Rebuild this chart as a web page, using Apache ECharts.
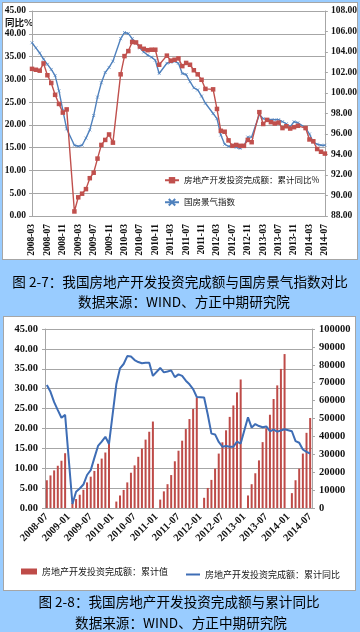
<!DOCTYPE html>
<html>
<head>
<meta charset="utf-8">
<script src="https://cdn.jsdelivr.net/npm/echarts/dist/echarts.min.js"></script>
<style>
html,body{margin:0;padding:0;width:360px;height:632px;background:#99CCFF;overflow:hidden;}
.panel{position:absolute;background:#ffffff;border:1px solid #A6A6A6;box-sizing:border-box;}
#c{position:absolute;left:0;top:0;width:360px;height:632px;}
</style>
</head>
<body>
<div class="panel" style="left:2px;top:2px;width:356px;height:258px;"></div>
<div class="panel" style="left:3px;top:316px;width:353px;height:275px;"></div>
<div id="c"></div>
<script>
// ---------- categories ----------
function monthRange(y0, m0, y1, m1) {
  const a = [];
  let y = y0, m = m0;
  while (y < y1 || (y === y1 && m <= m1)) {
    a.push(y + '-' + (m < 10 ? '0' : '') + m);
    m++; if (m > 12) { m = 1; y++; }
  }
  return a;
}
const months1 = monthRange(2008, 3, 2014, 7);   // chart 2-7
const months2 = monthRange(2008, 7, 2014, 7);   // chart 2-8

// ---------- series values ----------
// 房地产开发投资完成额：累计同比 (%), 2008-03 .. 2014-07 (January not published)
const invYoY = [
  32.3, 32.1, 31.9, 33.5, 30.9, 29.2, 26.6, 24.6, 22.7, 23.4,
  null, 1.0, 4.1, 4.9, 5.9, 8.3, 9.5, 12.6, 15.6, 16.7, 17.9, 16.1,
  null, 31.1, 35.1, 36.2, 38.2, 38.1, 37.2, 36.7, 36.4, 36.5, 36.5, 33.2,
  null, 35.2, 34.1, 34.3, 34.6, 32.9, 33.6, 33.2, 32.0, 31.1, 29.9, 27.9,
  null, 27.8, 23.5, 18.7, 18.5, 16.6, 15.4, 15.6, 15.4, 15.4, 16.7, 16.2,
  null, 22.8, 20.2, 21.1, 20.6, 20.3, 20.5, 19.3, 19.7, 19.2, 19.5, 19.8,
  null, 19.3, 16.8, 16.4, 14.7, 14.1, 13.7
];
// 国房景气指数, 2008-03 .. 2014-07
const climateIdx = [
  104.9, 104.4, 103.9, 103.3, 102.8, 102.3, 101.7, 100.2, 98.3, 96.5,
  null, 94.9, 94.8, 94.9, 95.6, 96.4, 97.8, 99.6, 101.0, 102.0, 102.5, 103.1,
  null, 105.3, 105.9, 105.8, 105.3, 104.9, 104.4, 104.0, 103.7, 103.5, 103.2, 101.9,
  null, 102.9, 103.0, 103.1, 102.9, 101.9, 101.8, 101.1, 100.5, 100.3, 99.7, 99.0,
  null, 98.0, 97.5, 95.9, 95.0, 94.8, 94.8, 94.7, 94.6, 94.8, 95.7, 95.7,
  null, 97.9, 97.5, 97.4, 97.4, 97.4, 97.4, 97.2, 97.0, 96.7, 97.2, 97.1,
  null, 96.6, 96.0, 95.2, 95.0, 94.9, 94.9
];
// 房地产开发投资完成额：累计值 (亿元), 2008-07 .. 2014-07
const invCum = [
  15500, 18200, 21000, 23600, 26400, 30600,
  null, 2800, 5000, 7400, 10200, 14300, 17500, 20700, 24700, 27600, 31000, 36000,
  null, 3600, 7000, 10100, 14300, 19700, 23800, 28600, 33200, 38200, 42600, 48300,
  null, 4700, 9300, 13300, 18400, 26100, 32000, 37600, 44100, 49700, 55300, 61700,
  null, 5700, 11200, 15700, 22000, 30400, 36700, 43400, 50900, 57300, 64600, 71800,
  null, 7000, 13300, 19400, 26600, 36800, 44500, 52100, 60900, 68500, 77700, 86000,
  null, 8300, 15500, 22000, 30400, 42000, 50300
];
// 累计同比 for chart 2-8 (same source series, 2008-07 .. 2014-07)
const invYoY2 = invYoY.slice(months1.indexOf('2008-07'));

// ---------- texts ----------
const cap1a = '图 2-7：我国房地产开发投资完成额与国房景气指数对比';
const cap1b = '数据来源：WIND、方正中期研究院';
const cap2a = '图 2-8：我国房地产开发投资完成额与累计同比';
const cap2b = '数据来源：WIND、方正中期研究院';
const nameYoY1 = '房地产开发投资完成额：累计同比%';
const nameIdx = '国房景气指数';
const nameCum = '房地产开发投资完成额：累计值';
const nameYoY2 = '房地产开发投资完成额：累计同比';
const leftUnit = '同比%';

const serif = '"Liberation Serif", "Times New Roman", serif';
const cjk = '"Noto Sans CJK SC", "Noto Sans", sans-serif';
const gridCol = '#A6A6A6';
const red = '#C0504D';
const barRed = '#BE4B48';
const blue1 = '#4F81BD';
const blue2 = '#3E6DB5';

const tickLbl = (sz) => ({ fontFamily: serif, fontSize: sz, fontWeight: 'bold', color: '#111' });

const chart = echarts.init(document.getElementById('c'), null, { renderer: 'canvas' });

const capStyle = (t) => ({ text: t, fontSize: 13.6, fontFamily: cjk, fill: '#000',
  textAlign: 'center', textVerticalAlign: 'middle', align: 'center', verticalAlign: 'middle' });

const option = {
  animation: false,
  backgroundColor: 'transparent',
  graphic: [
    { type: 'text', x: 180, y: 282, silent: true, style: capStyle(cap1a) },
    { type: 'text', x: 184, y: 302, silent: true, style: capStyle(cap1b) },
    { type: 'text', x: 179, y: 602, silent: true, style: capStyle(cap2a) },
    { type: 'text', x: 181, y: 623, silent: true, style: capStyle(cap2b) },
    { type: 'text', x: 5, y: 22, silent: true,
      style: { text: leftUnit, fontSize: 9.5, fontWeight: 'bold', fontFamily: cjk, fill: '#111', textVerticalAlign: 'middle', verticalAlign: 'middle' } }
  ],
  legend: [
    { data: [nameYoY1], left: 164, top: 176, itemWidth: 14, itemHeight: 8, itemGap: 0, padding: 0,
      textStyle: { fontFamily: cjk, fontSize: 8.5, color: '#111' } },
    { data: [nameIdx], left: 164, top: 198, itemWidth: 14, itemHeight: 8, itemGap: 0, padding: 0,
      textStyle: { fontFamily: cjk, fontSize: 8.5, color: '#111' } },
    { data: [{ name: nameCum, icon: 'rect' }], left: 21, top: 567, itemWidth: 16, itemHeight: 6, itemGap: 0, padding: 0,
      textStyle: { fontFamily: cjk, fontSize: 9, color: '#111' } },
    { data: [{ name: nameYoY2, icon: 'rect' }], left: 186, top: 570, itemWidth: 14, itemHeight: 2, itemGap: 0, padding: 0,
      textStyle: { fontFamily: cjk, fontSize: 9, color: '#111' } }
  ],
  grid: [
    { left: 32, right: 35, top: 11, height: 205 },
    { left: 45, right: 48, top: 329, height: 179 }
  ],
  xAxis: [
    { type: 'category', gridIndex: 0, data: months1, boundaryGap: false,
      axisLine: { lineStyle: { color: gridCol } }, axisTick: { show: false },
      axisLabel: Object.assign({ interval: 3, rotate: 90, margin: 8 }, tickLbl(9.5)) },
    { type: 'category', gridIndex: 1, data: months2, boundaryGap: true,
      axisLine: { lineStyle: { color: gridCol } }, axisTick: { show: false },
      axisLabel: Object.assign({ interval: 5, rotate: 45, margin: 7 }, tickLbl(10.5)) }
  ],
  yAxis: [
    { type: 'value', gridIndex: 0, position: 'left', min: 0, max: 45, interval: 5,
      axisLine: { show: true, lineStyle: { color: gridCol } },
      axisTick: { show: true, length: 3, lineStyle: { color: gridCol } },
      splitLine: { show: true, lineStyle: { color: gridCol, width: 1 } },
      axisLabel: Object.assign({ margin: 6, formatter: v => v.toFixed(2) }, tickLbl(9.5)) },
    { type: 'value', gridIndex: 0, position: 'right', min: 88, max: 108, interval: 2,
      axisLine: { show: true, lineStyle: { color: gridCol } },
      axisTick: { show: true, length: 3, lineStyle: { color: gridCol } },
      splitLine: { show: false },
      axisLabel: Object.assign({ margin: 6, formatter: v => v.toFixed(2) }, tickLbl(9.5)) },
    { type: 'value', gridIndex: 1, position: 'left', min: 0, max: 45, interval: 5,
      axisLine: { show: true, lineStyle: { color: gridCol } },
      axisTick: { show: true, length: 3, lineStyle: { color: gridCol } },
      splitLine: { show: true, lineStyle: { color: gridCol, width: 1 } },
      axisLabel: Object.assign({ margin: 7, formatter: v => v.toFixed(2) }, tickLbl(10.5)) },
    { type: 'value', gridIndex: 1, position: 'right', min: 0, max: 100000, interval: 10000,
      axisLine: { show: true, lineStyle: { color: gridCol } },
      axisTick: { show: true, length: 3, lineStyle: { color: gridCol } },
      splitLine: { show: false },
      axisLabel: Object.assign({ margin: 7, formatter: v => String(v) }, tickLbl(10.5)) }
  ],
  series: [
    { name: nameYoY1, type: 'line', xAxisIndex: 0, yAxisIndex: 0, data: invYoY, connectNulls: true,
      symbol: 'rect', symbolSize: 4.5, showAllSymbol: true,
      lineStyle: { color: red, width: 1.4 }, itemStyle: { color: red }, z: 3 },
    { name: nameIdx, type: 'line', xAxisIndex: 0, yAxisIndex: 1, data: climateIdx, connectNulls: true,
      symbol: 'path://M0,0L10,10M10,0L0,10', symbolSize: 3, showAllSymbol: true,
      lineStyle: { color: blue1, width: 1.4 }, itemStyle: { color: blue1, borderColor: blue1, borderWidth: 0.7 }, z: 2 },
    { name: nameCum, type: 'bar', xAxisIndex: 1, yAxisIndex: 3, data: invCum, barWidth: 2,
      itemStyle: { color: barRed } },
    { name: nameYoY2, type: 'line', xAxisIndex: 1, yAxisIndex: 2, data: invYoY2, connectNulls: true,
      symbol: 'none', showSymbol: false, lineStyle: { color: blue2, width: 2 }, itemStyle: { color: blue2 }, z: 4 }
  ]
};
chart.setOption(option);
</script>
</body>
</html>
